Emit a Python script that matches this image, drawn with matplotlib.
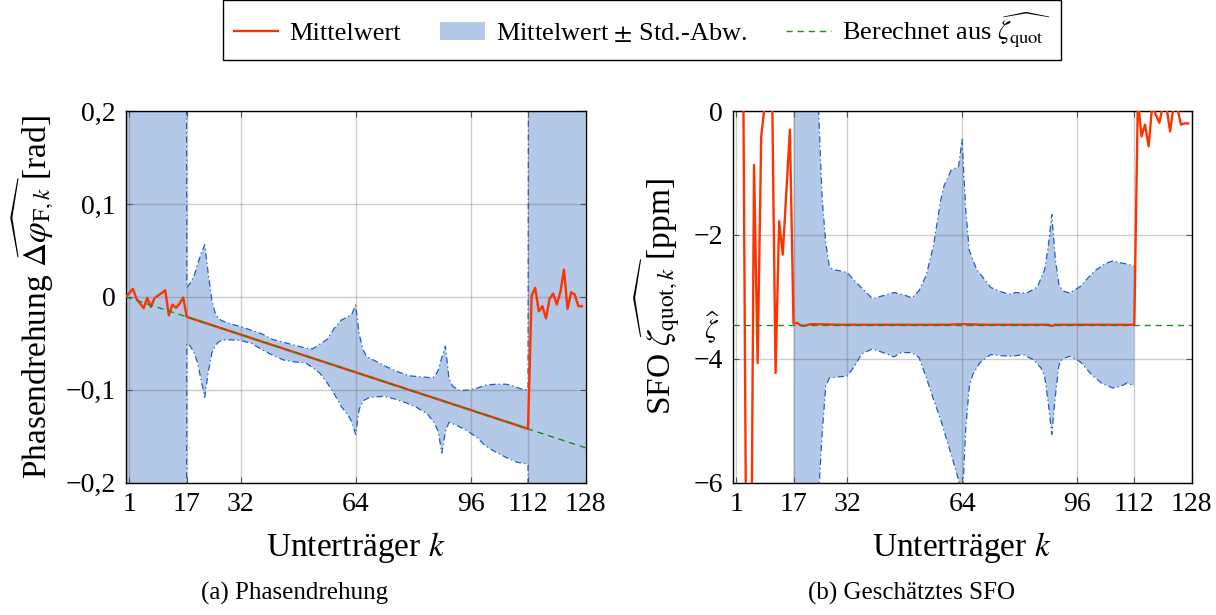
import matplotlib
matplotlib.use("Agg")
import matplotlib.pyplot as plt
from matplotlib.lines import Line2D
from matplotlib.patches import Patch

plt.rcParams.update({
    "font.family": "serif",
    "font.serif": ["Liberation Serif", "DejaVu Serif"],
    "mathtext.fontset": "stix",
})

# ---------------- data ----------------
k_ticks = [1, 17, 32, 64, 96, 112, 128]

# (a) phase rotation: mean over subcarriers
phase_mean_k = list(range(0, 18)) + [112] + list(range(113, 128))
phase_mean = [0.000, 0.004, 0.0086, -0.002, -0.0072, -0.0122, -0.001, -0.0108,
              -0.0014, 0.0014, 0.004, 0.0072, -0.020, -0.0083, -0.0118, -0.0072,
              -0.0007, -0.0216,
              -0.142,
              0.0014, 0.0097, -0.0155, -0.0101, -0.0233, -0.002, 0.0035, -0.0083,
              0.005, 0.0294, -0.013, 0.005, 0.0025, -0.010, -0.010]

# (a) mean + std / mean - std
phase_upper_k = [0, 16, 17, 18, 19, 20, 21, 22, 23, 24, 25, 26, 27, 30, 32, 35, 38,
                 41, 44, 47, 50, 52, 54, 56, 58, 60, 62, 63, 64, 65, 66, 67, 70, 73,
                 76, 79, 82, 85, 86, 87, 88, 89, 90, 91, 93, 96, 98, 100, 103, 106,
                 108, 110, 112, 113, 128]
phase_upper = [3.0, 3.0, 0.010, 0.015, 0.022, 0.035, 0.047, 0.056, 0.024, -0.004,
               -0.019, -0.024, -0.026, -0.030, -0.032, -0.036, -0.040, -0.046,
               -0.049, -0.052, -0.055, -0.056, -0.051, -0.046, -0.034, -0.025,
               -0.021, -0.018, -0.009, -0.040, -0.056, -0.064, -0.070, -0.076,
               -0.081, -0.085, -0.086, -0.087, -0.086, -0.079, -0.065, -0.053,
               -0.088, -0.096, -0.101, -0.100, -0.098, -0.095, -0.094, -0.094,
               -0.096, -0.099, -0.100, 3.0, 3.0]
phase_lower_k = [0, 16, 17, 18, 19, 20, 21, 22, 23, 24, 25, 26, 28, 32, 35, 38, 41,
                 44, 47, 50, 52, 54, 56, 58, 60, 62, 63, 64, 65, 66, 68, 72, 75, 78,
                 81, 84, 86, 87, 88, 89, 90, 92, 95, 98, 100, 103, 106, 109, 112,
                 113, 128]
phase_lower = [-3.0, -3.0, -0.050, -0.053, -0.060, -0.071, -0.090, -0.108, -0.080,
               -0.060, -0.052, -0.048, -0.046, -0.047, -0.050, -0.057, -0.063,
               -0.068, -0.070, -0.071, -0.076, -0.082, -0.092, -0.104, -0.118,
               -0.128, -0.135, -0.148, -0.121, -0.112, -0.108, -0.107, -0.110,
               -0.114, -0.119, -0.126, -0.136, -0.145, -0.168, -0.145, -0.135,
               -0.138, -0.144, -0.152, -0.160, -0.167, -0.173, -0.178, -0.180,
               -3.0, -3.0]

# (a) phase computed from the SFO estimate
phase_fit_k = [0, 128]
phase_fit = [0.0, -0.1624]

# (b) SFO estimate per subcarrier [ppm]
sfo_mean_k = list(range(0, 18)) + [18, 19, 20, 21, 22, 30, 40, 50, 60, 64, 70, 80,
                                   88, 89, 90, 100, 112] + list(range(113, 128))
sfo_mean = [2.0, 1.5, 1.0, 0.5, -9.0, -9.5, -0.87, -4.07, -0.41, 0.1, 1.5, 0.5,
            -4.23, -1.78, -2.32, -1.31, -0.30, -3.43,
            -3.42, -3.46, -3.47, -3.45, -3.44, -3.45, -3.45, -3.45, -3.45, -3.44,
            -3.45, -3.45, -3.45, -3.47, -3.45, -3.45, -3.45,
            0.2, -0.41, -0.22, -0.57, 0.1, -0.06, -0.19, 0.1, 0.05, -0.33, 0.1,
            0.05, -0.22, -0.20, -0.20]

sfo_upper_k = [17, 22, 23, 24, 25, 26, 27, 28, 30, 32, 34, 37, 39, 42, 45, 48, 50,
               52, 54, 56, 58, 59, 61, 63, 64, 65, 66, 68, 70, 72, 75, 77, 79, 82,
               85, 87, 88, 89, 90, 91, 92, 94, 97, 99, 101, 104, 106, 108, 110,
               112]
sfo_upper = [5.0, 2.0, 0.8, 0.0, -1.43, -2.13, -2.51, -2.56, -2.58, -2.61, -2.74,
             -2.91, -3.03, -2.98, -2.93, -2.97, -3.02, -2.90, -2.65, -2.18, -1.45,
             -1.20, -0.95, -0.90, -0.46, -1.59, -2.25, -2.55, -2.70, -2.85, -2.92,
             -2.96, -2.93, -2.94, -2.84, -2.56, -2.20, -1.67, -2.40, -2.80, -2.90,
             -2.94, -2.83, -2.70, -2.58, -2.46, -2.42, -2.45, -2.47, -2.51]
sfo_lower_k = [17, 22, 23, 24, 25, 26, 27, 30, 32, 34, 36, 39, 42, 45, 47, 50, 52,
               54, 56, 58, 61, 63, 64, 65, 66, 67, 69, 72, 75, 78, 81, 84, 86, 87,
               88, 89, 90, 91, 92, 94, 97, 100, 103, 106, 108, 110, 112]
sfo_lower = [-12.0, -9.0, -7.5, -6.2, -5.19, -4.44, -4.31, -4.29, -4.28, -4.12,
             -3.92, -3.84, -3.90, -3.97, -3.90, -3.90, -3.98, -4.30, -4.65, -4.98,
             -5.55, -5.95, -6.4, -5.14, -4.45, -4.25, -4.06, -3.93, -3.95, -3.96,
             -3.93, -4.02, -4.15, -4.28, -4.70, -5.22, -4.60, -4.10, -4.00, -3.96,
             -4.05, -4.25, -4.40, -4.47, -4.45, -4.39, -4.44]

sfo_fit_k = [0, 128]
sfo_fit = [-3.45, -3.45]
zeta_hat = -3.45

# ---------------- style ----------------
RED = "#ff3300"
FILL = "#b3c9e7"
EDGE = "#1f5fc4"
GREEN = "#1e8c1e"
DASHDOT = (0, (5, 2.5, 1, 2.5))
DASHED = (0, (4.5, 3.5))

TICK_FS = 20
LABEL_FS = 24
LEG_FS = 19
CAP_FS = 18


def envelope_on_grid(xs, ys, grid):
    """Piecewise-linear lookup of an envelope at the points of `grid`."""
    out = []
    for g in grid:
        for i in range(len(xs) - 1):
            if xs[i] <= g <= xs[i + 1]:
                t = 0 if xs[i + 1] == xs[i] else (g - xs[i]) / (xs[i + 1] - xs[i])
                out.append(ys[i] + t * (ys[i + 1] - ys[i]))
                break
    return out


def style_axes(ax):
    ax.set_xlim(0, 128)
    ax.set_xticks(k_ticks)
    ax.set_xticklabels([str(t) for t in k_ticks])
    ax.set_axisbelow("line")
    ax.grid(True, which="major", color="#5a5a5a", alpha=0.3, linewidth=1.0)
    ax.tick_params(which="major", direction="in", length=4, width=0.8,
                   top=True, right=True, labelsize=TICK_FS, pad=7,
                   color="#555555")
    for s in ax.spines.values():
        s.set_linewidth(1.0)
        s.set_color("black")
    ax.set_xlabel("Unterträger $k$", fontsize=LABEL_FS, labelpad=9)


def draw_band(ax, uk, uv, lk, lv):
    grid = sorted(set(uk) | set(lk))
    grid = [g for g in grid if max(uk[0], lk[0]) <= g <= min(uk[-1], lk[-1])]
    ax.fill_between(grid, envelope_on_grid(lk, lv, grid),
                    envelope_on_grid(uk, uv, grid),
                    facecolor=FILL, edgecolor="none", linewidth=0, zorder=1)
    ax.plot(uk, uv, color=EDGE, linewidth=0.9, linestyle=DASHDOT, zorder=1.2)
    ax.plot(lk, lv, color=EDGE, linewidth=0.9, linestyle=DASHDOT, zorder=1.2)


fig = plt.figure(figsize=(12.16, 6.15), dpi=100)
axA = fig.add_axes([0.1034, 0.2151, 0.3781, 0.6044])
axB = fig.add_axes([0.6024, 0.2151, 0.3776, 0.6044])

# ---- (a) Phasendrehung ----
draw_band(axA, phase_upper_k, phase_upper, phase_lower_k, phase_lower)
axA.plot(phase_mean_k, phase_mean, color=RED, linewidth=1.7, zorder=3)
axA.plot(phase_fit_k, phase_fit, color=GREEN, linewidth=1.0, linestyle=DASHED,
         zorder=4)
style_axes(axA)
axA.set_ylim(-0.2, 0.2)
yt = [-0.2, -0.1, 0.0, 0.1, 0.2]
axA.set_yticks(yt)
axA.set_yticklabels([("\u2212" if v < 0 else "") + f"{abs(v):g}".replace(".", ",")
                     for v in yt])
axA.set_ylabel(r"Phasendrehung $\widehat{\Delta\varphi_{\mathrm{F},k}}$ [rad]",
               fontsize=LABEL_FS, labelpad=6)

# ---- (b) Geschätztes SFO ----
draw_band(axB, sfo_upper_k, sfo_upper, sfo_lower_k, sfo_lower)
axB.plot(sfo_mean_k, sfo_mean, color=RED, linewidth=1.7, zorder=3)
axB.plot(sfo_fit_k, sfo_fit, color=GREEN, linewidth=1.0, linestyle=DASHED,
         zorder=4)
style_axes(axB)
axB.set_ylim(-6, 0)
ytb = [-6, -4, -2, 0]
axB.set_yticks(ytb)
axB.set_yticklabels([("\u2212" if v < 0 else "") + str(abs(v)) for v in ytb])
axB.set_yticks([zeta_hat], minor=True)
axB.set_yticklabels([r"$\widehat{\zeta}$"], minor=True)
axB.tick_params(which="minor", length=0, labelsize=TICK_FS, pad=9)
axB.set_ylabel(r"SFO $\widehat{\zeta_{\mathrm{quot},k}}$ [ppm]",
               fontsize=LABEL_FS, labelpad=8)

# ---- captions ----
fig.text(0.2426, 0.016, "(a) Phasendrehung", ha="center", va="bottom",
         fontsize=CAP_FS)
fig.text(0.75, 0.016, "(b) Geschätztes SFO", ha="center", va="bottom",
         fontsize=CAP_FS)

# ---- legend ----
handles = [
    Line2D([], [], color=RED, linewidth=1.7),
    Patch(facecolor=FILL, edgecolor="none"),
    Line2D([], [], color=GREEN, linewidth=1.0, linestyle=DASHED),
]
labels = ["Mittelwert", r"Mittelwert $\pm$ Std.-Abw.",
          r"Berechnet aus $\widehat{\zeta_{\mathrm{quot}}}$"]
leg = fig.legend(handles, labels, loc="center", ncol=3,
                 bbox_to_anchor=(0.528, 0.951), bbox_transform=fig.transFigure,
                 fontsize=LEG_FS, frameon=True, fancybox=False,
                 edgecolor="black", framealpha=1, handlelength=1.7,
                 handleheight=0.7, handletextpad=0.4, columnspacing=1.5,
                 borderpad=0.4)
leg.get_frame().set_linewidth(1.0)

fig.savefig("out.png", dpi=100)
